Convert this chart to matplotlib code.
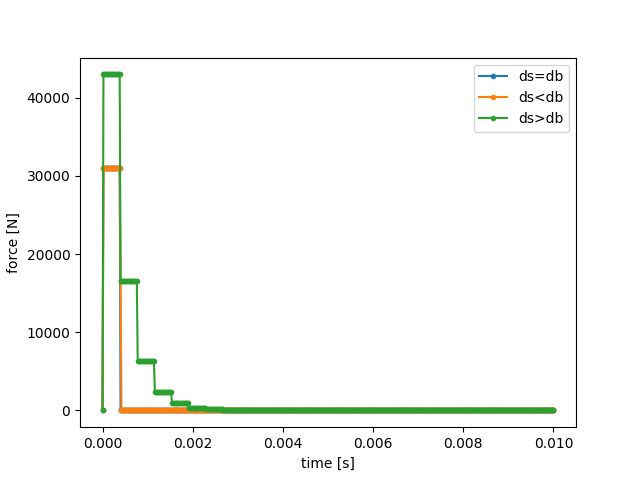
import numpy as np
import matplotlib.pyplot as plt

dt = 0.00002
t = np.arange(0, 0.01 + dt / 2, dt)

# force levels and the time at which each level ends
eq_levels = [0, 31000, 0]
eq_ends = [0.0, 0.00038, 0.01]

lt_levels = [0, 31000, 16500, 0]
lt_ends = [0.0, 0.00038, 0.0004, 0.01]

gt_levels = [0, 43000, 16500, 6300, 2400, 900, 350, 130, 20]
gt_ends = [0.0, 0.00038, 0.00076, 0.00114, 0.00152, 0.0019, 0.00228, 0.00266, 0.01]


def steps(levels, ends):
    idx = np.searchsorted(np.array(ends) + 1e-12, t)
    return np.array(levels)[np.clip(idx, 0, len(levels) - 1)]


fig, ax = plt.subplots(figsize=(6.4, 4.8))
ax.plot(t, steps(eq_levels, eq_ends), marker=".", label="ds=db")
ax.plot(t, steps(lt_levels, lt_ends), marker=".", label="ds<db")
ax.plot(t, steps(gt_levels, gt_ends), marker=".", label="ds>db")
ax.set_xlabel("time [s]")
ax.set_ylabel("force [N]")
ax.legend()
plt.savefig("out.png", dpi=100)
